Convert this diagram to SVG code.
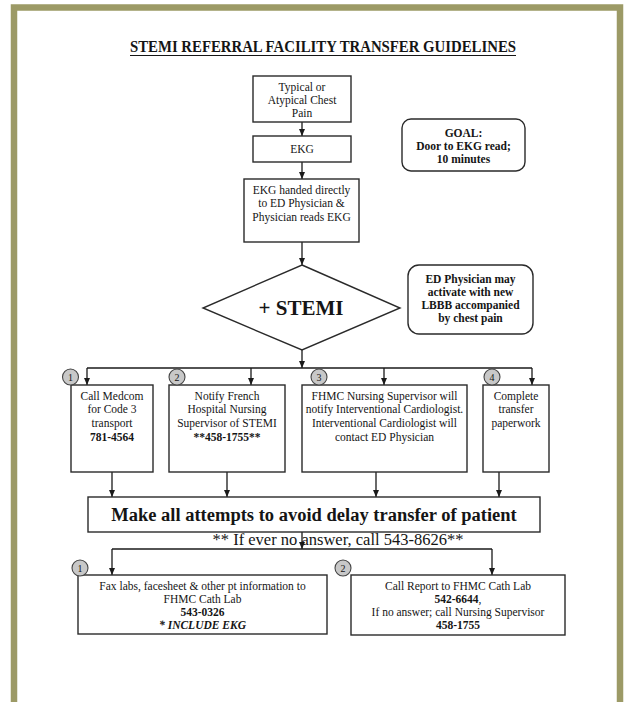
<svg xmlns="http://www.w3.org/2000/svg" width="624" height="702" viewBox="0 0 624 702">
<defs>
<style>
text{font-family:"Liberation Serif","Times New Roman",serif;fill:#151515;text-anchor:middle}
.t{font-size:11.5px}
.b{font-weight:bold}
.box{fill:#fff;stroke:#2a2a2a;stroke-width:1.4}
.con{fill:none;stroke:#1a1a1a;stroke-width:1.3}
.arr{marker-end:url(#ah)}
.num{fill:#c8c8c8;stroke:#444;stroke-width:1.1}
.n{font-size:10px}
</style>
<marker id="ah" markerWidth="8" markerHeight="8" refX="7" refY="4" orient="auto" markerUnits="userSpaceOnUse"><path d="M0,1 L7,4 L0,7 z" fill="#1a1a1a"/></marker>
</defs>
<rect x="0" y="0" width="624" height="702" fill="#fff"/>
<rect x="14" y="7.5" width="606" height="720" fill="none" stroke="#9c9a66" stroke-width="6.5"/>

<g id="title">
<text x="323" y="52" font-size="16" font-weight="bold" textLength="386" lengthAdjust="spacingAndGlyphs">STEMI REFERRAL FACILITY TRANSFER GUIDELINES</text>
<line x1="130" y1="55.5" x2="516" y2="55.5" stroke="#151515" stroke-width="1.2"/>
</g>

<g id="connectors">
<path class="con arr" d="M302,122 V136"/>
<path class="con arr" d="M302,162 V179"/>
<path class="con arr" d="M302,242 V265"/>
<path class="con arr" d="M302,350 V368"/>
<path class="con" d="M87,368 H532"/>
<path class="con arr" d="M87,368 V385"/>
<path class="con arr" d="M251,368 V385"/>
<path class="con arr" d="M384,368 V385"/>
<path class="con arr" d="M532,368 V385"/>
<path class="con arr" d="M112,472 V497"/>
<path class="con arr" d="M227,472 V497"/>
<path class="con arr" d="M376,472 V497"/>
<path class="con arr" d="M499,472 V497"/>
<path class="con arr" d="M302,532 V549"/>
<path class="con" d="M112,549 H492"/>
<path class="con arr" d="M112,549 V575"/>
<path class="con arr" d="M492,549 V575"/>
</g>

<g id="chest-pain">
<rect class="box" x="253" y="76" width="98" height="46"/>
<text class="t" x="302" y="91">Typical or</text>
<text class="t" x="302" y="104">Atypical Chest</text>
<text class="t" x="302" y="117">Pain</text>
</g>
<g id="ekg">
<rect class="box" x="253" y="136" width="98" height="26"/>
<text class="t" x="302" y="153">EKG</text>
</g>
<g id="ekg-handed">
<rect class="box" x="244" y="179" width="115" height="63"/>
<text class="t" x="301.5" y="194">EKG handed directly</text>
<text class="t" x="301.5" y="207">to ED Physician &amp;</text>
<text class="t" x="301.5" y="221">Physician reads EKG</text>
</g>
<g id="goal">
<rect class="box" x="402" y="119" width="123" height="52" rx="9"/>
<text class="t b" x="463.5" y="137">GOAL:</text>
<text class="t b" x="463.5" y="150">Door to EKG read;</text>
<text class="t b" x="463.5" y="163">10 minutes</text>
</g>
<g id="stemi">
<polygon class="box" points="302,265 400,308 302,350 203,308"/>
<text x="301" y="315" font-size="21" font-weight="bold">+ STEMI</text>
</g>
<g id="lbbb">
<rect class="box" x="408" y="265" width="125" height="69" rx="11"/>
<text class="t b" x="470.5" y="283">ED Physician may</text>
<text class="t b" x="470.5" y="296">activate with new</text>
<text class="t b" x="470.5" y="309">LBBB accompanied</text>
<text class="t b" x="470.5" y="322">by chest pain</text>
</g>

<g id="step1">
<rect class="box" x="71" y="385" width="82" height="87"/>
<text class="t" x="112" y="400">Call Medcom</text>
<text class="t" x="112" y="413">for Code 3</text>
<text class="t" x="112" y="427">transport</text>
<text class="t b" x="112" y="441">781-4564</text>
<circle class="num" cx="70.5" cy="377" r="8"/>
<text class="n" x="70.5" y="380.5">1</text>
</g>
<g id="step2">
<rect class="box" x="169" y="385" width="116" height="87"/>
<text class="t" x="227" y="400">Notify French</text>
<text class="t" x="227" y="413">Hospital Nursing</text>
<text class="t" x="227" y="427">Supervisor of STEMI</text>
<text class="t b" x="227" y="441">**458-1755**</text>
<circle class="num" cx="177" cy="377" r="8"/>
<text class="n" x="177" y="380.5">2</text>
</g>
<g id="step3">
<rect class="box" x="302" y="385" width="165" height="87"/>
<text class="t" x="384.5" y="400">FHMC Nursing Supervisor will</text>
<text class="t" x="384.5" y="413">notify Interventional Cardiologist.</text>
<text class="t" x="384.5" y="427">Interventional Cardiologist will</text>
<text class="t" x="384.5" y="441">contact ED Physician</text>
<circle class="num" cx="319" cy="377" r="8"/>
<text class="n" x="319" y="380.5">3</text>
</g>
<g id="step4">
<rect class="box" x="483" y="385" width="66" height="87"/>
<text class="t" x="516" y="400">Complete</text>
<text class="t" x="516" y="413">transfer</text>
<text class="t" x="516" y="427">paperwork</text>
<circle class="num" cx="492" cy="377" r="8"/>
<text class="n" x="492" y="380.5">4</text>
</g>

<g id="banner">
<rect class="box" x="88" y="497" width="452" height="35"/>
<text x="314" y="521" font-size="18.5" font-weight="bold">Make all attempts to avoid delay transfer of patient</text>
</g>
<g id="note">
<text x="338" y="545" font-size="16.5">** If ever no answer, call 543-8626**</text>
</g>

<g id="fax">
<rect class="box" x="78" y="575" width="249" height="59"/>
<text class="t" x="202.5" y="590" font-size="11">Fax labs, facesheet &amp; other pt information to</text>
<text class="t" x="202.5" y="603">FHMC Cath Lab</text>
<text class="t b" x="202.5" y="616">543-0326</text>
<text class="t b" x="202.5" y="629" font-style="italic">* INCLUDE EKG</text>
<circle class="num" cx="80" cy="568" r="8"/>
<text class="n" x="80" y="571.5">1</text>
</g>
<g id="report">
<rect class="box" x="351" y="575" width="214" height="60"/>
<text class="t" x="458" y="590">Call Report to FHMC Cath Lab</text>
<text class="t" x="458" y="603"><tspan class="b">542-6644</tspan>,</text>
<text class="t" x="458" y="616">If no answer; call Nursing Supervisor</text>
<text class="t b" x="458" y="629">458-1755</text>
<circle class="num" cx="343" cy="568" r="8"/>
<text class="n" x="343" y="571.5">2</text>
</g>
</svg>
